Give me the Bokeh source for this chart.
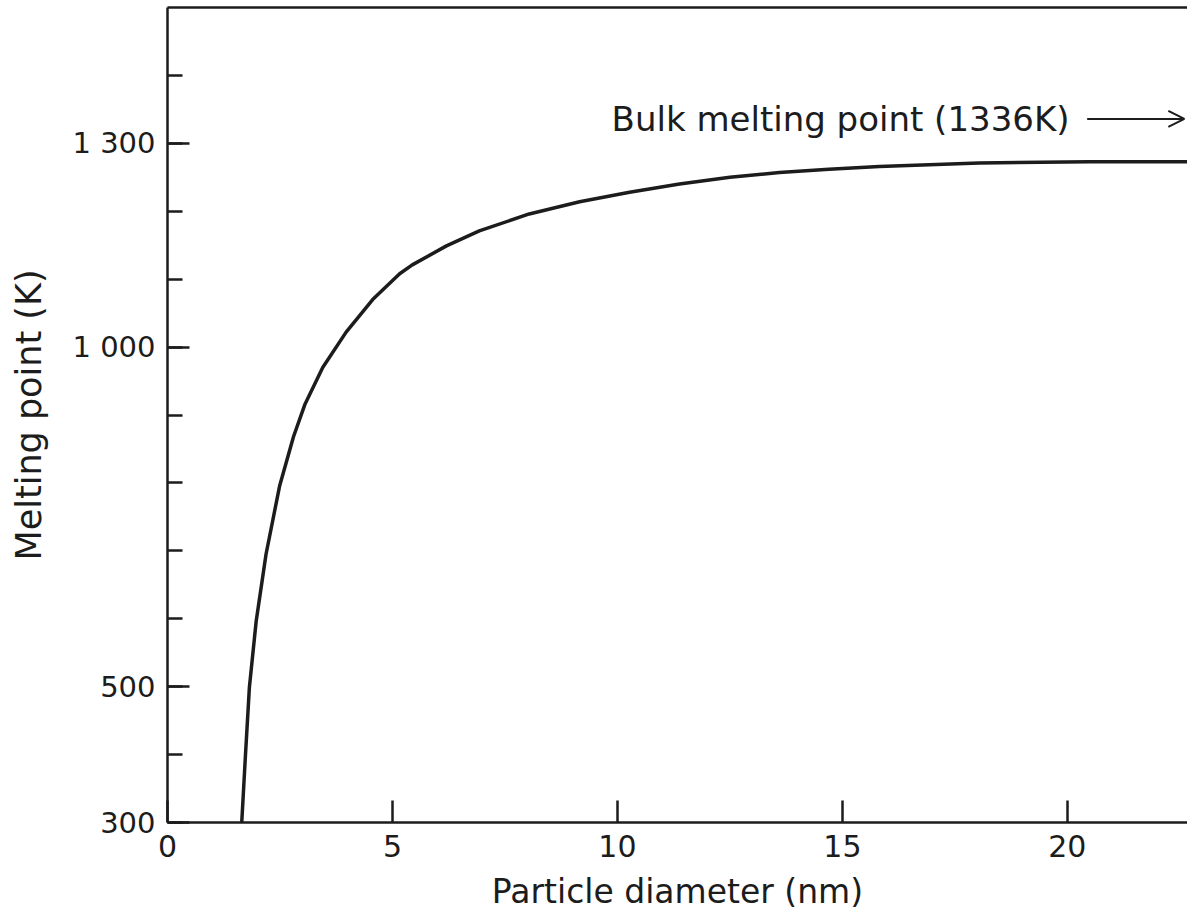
from bokeh.plotting import figure
from bokeh.models import (FixedTicker, LinearAxis, Label, Arrow, OpenHead, Range1d)
from bokeh.embed import file_html
from bokeh.resources import INLINE

# ---- data ----
diameter_nm = [1.65, 1.73, 1.82, 1.97, 2.19, 2.49, 2.80, 3.05, 3.45, 3.97, 4.56, 5.16,
               5.44, 6.2, 6.93, 8.04, 9.16, 10.27, 11.38, 12.5, 13.6, 14.7, 15.82,
               18.04, 20.5, 22.67]
melting_K = [300, 396, 499, 596, 695, 795, 868, 915, 970, 1022, 1070, 1108,
             1121, 1149, 1171, 1196, 1214, 1228, 1240, 1250, 1257, 1262, 1266,
             1271, 1273, 1273]
x_ticks = [0, 5, 10, 15, 20]
y_major_ticks = [300, 500, 1000, 1300]
y_minor_ticks = [300, 400, 500, 600, 700, 800, 900, 1000, 1100, 1200, 1300, 1400]
y_tick_labels = {300: "300", 500: "500", 1000: "1 000", 1300: "1 300"}
bulk_mp = 1336
bulk_text = "Bulk melting point (1336K)"

FONT = "DejaVu Sans"
INK = "#1c1c1c"

p = figure(width=1187, height=918, output_backend="svg", toolbar_location=None,
           x_range=Range1d(0, 22.67), y_range=Range1d(300, 1500),
           min_border_left=167, min_border_bottom=96, min_border_top=7,
           min_border_right=0, background_fill_color="white",
           border_fill_color="white", outline_line_color=None)
p.grid.visible = False

p.line(diameter_nm, melting_K, line_color=INK, line_width=3.5, line_join="round")

# x axis
xa = p.xaxis[0]
xa.ticker = FixedTicker(ticks=x_ticks, minor_ticks=[])
xa.axis_label = "Particle diameter (nm)"
xa.major_tick_in = 22
xa.major_tick_out = 0
xa.minor_tick_in = 0
xa.minor_tick_out = 0
xa.major_label_standoff = 12
xa.axis_label_standoff = 12

# y axis
ya = p.yaxis[0]
ya.ticker = FixedTicker(ticks=y_major_ticks, minor_ticks=y_minor_ticks)
ya.major_label_overrides = y_tick_labels
ya.axis_label = "Melting point (K)"
ya.major_tick_in = 22
ya.major_tick_out = 0
ya.minor_tick_in = 15
ya.minor_tick_out = 0
ya.major_label_standoff = 12
ya.axis_label_standoff = 20

for ax, fs, lfs in ((xa, "30px", "33px"), (ya, "29px", "35px")):
    ax.axis_line_color = INK
    ax.axis_line_width = 2.5
    ax.major_tick_line_color = INK
    ax.major_tick_line_width = 2.5
    ax.minor_tick_line_color = INK
    ax.minor_tick_line_width = 2.5
    ax.major_label_text_font = FONT
    ax.major_label_text_font_size = fs
    ax.major_label_text_color = INK
    ax.axis_label_text_font = FONT
    ax.axis_label_text_font_size = lfs
    ax.axis_label_text_font_style = "normal"
    ax.axis_label_text_color = INK

# top border line
top = LinearAxis(ticker=FixedTicker(ticks=[]), major_tick_in=0, major_tick_out=0,
                 minor_tick_in=0, minor_tick_out=0, major_label_standoff=0,
                 major_label_text_font_size="0px", axis_line_color=INK,
                 axis_line_width=2.5)
p.add_layout(top, "above")

# annotation
p.add_layout(Label(x=9.87, y=bulk_mp, text=bulk_text, text_baseline="middle",
                   text_align="left", text_font=FONT, text_font_size="34px",
                   text_color=INK))
p.add_layout(Arrow(end=OpenHead(size=16, line_width=2, line_color=INK),
                   x_start=20.44, x_end=22.6, y_start=bulk_mp, y_end=bulk_mp,
                   line_width=2, line_color=INK))

open("out.html", "w").write(file_html(p, INLINE))
